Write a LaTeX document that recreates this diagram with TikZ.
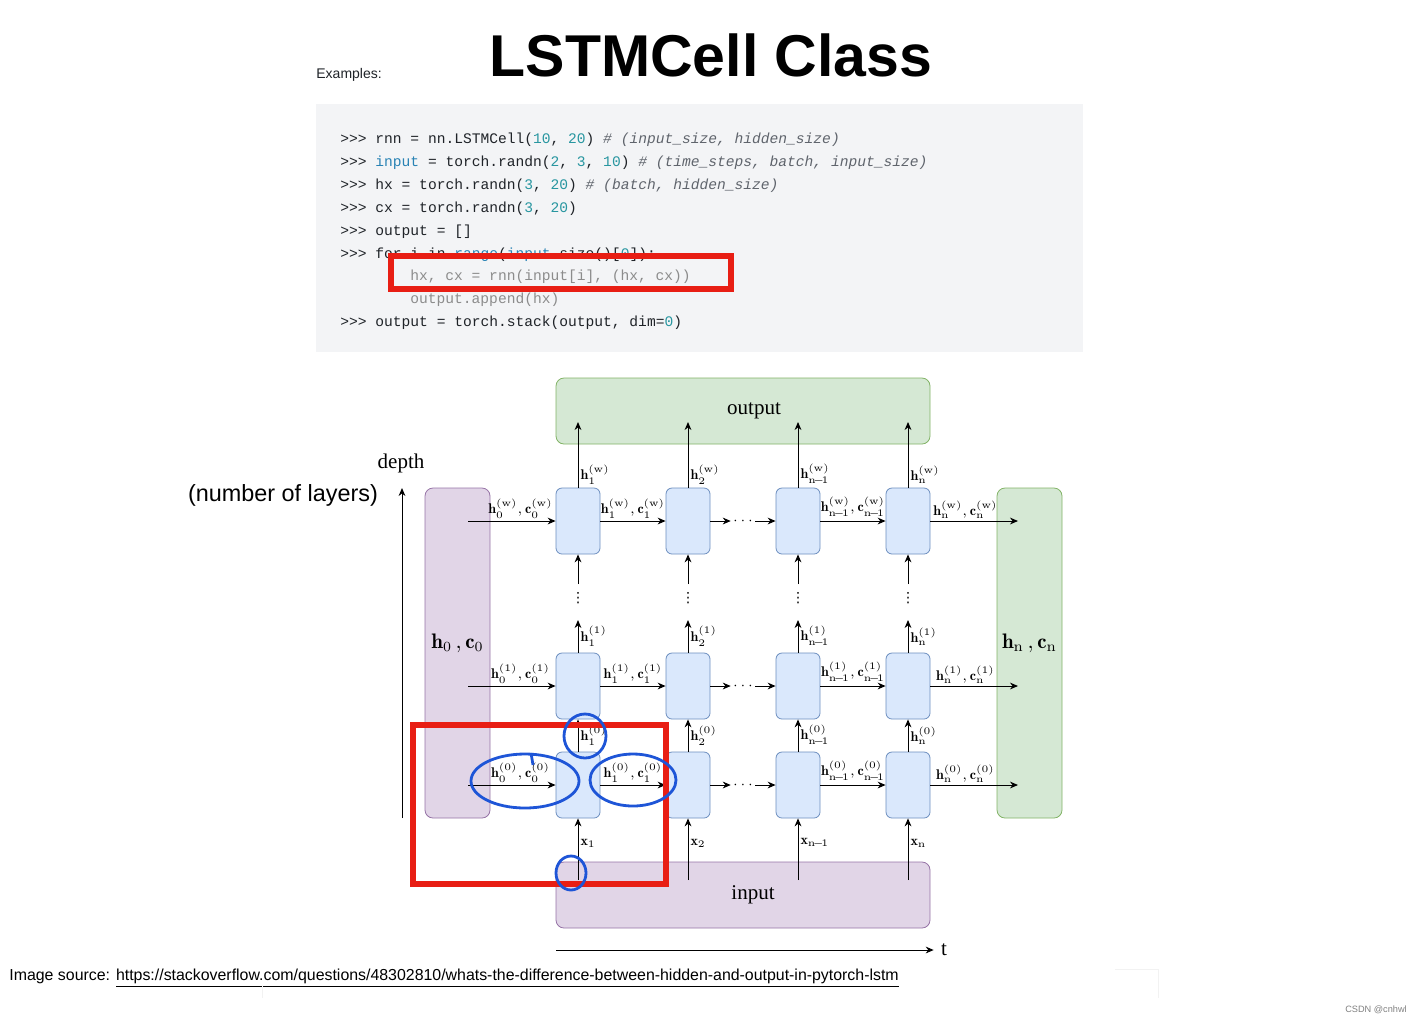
\documentclass[tikz,border=0pt]{standalone}
\usepackage{fontspec}
\usetikzlibrary{arrows.meta}
\newfontfamily\headfont{Liberation Sans}
\newfontfamily\codefont{Liberation Mono}
\newfontfamily\wordfont{Liberation Serif}
\newfontfamily\symfont{DejaVu Sans}
\newcommand{\cnum}[1]{\textcolor{codenum}{#1}}
\newcommand{\ckw}[1]{\textcolor{codekw}{#1}}
\newcommand{\ccmt}[1]{\textcolor{codecmt}{\itshape #1}}
\newcommand{\hc}[2]{\mathbf{h}^{(\mathrm{#1})}_{#2},\mathbf{c}^{(\mathrm{#1})}_{#2}}
\newcommand{\hh}[2]{\mathbf{h}^{(\mathrm{#1})}_{#2}}
\newcommand{\nmo}{\mathrm{n}\!-\!1}

\begin{document}
\begin{tikzpicture}[x=0.5pt,y=-0.5pt,
  cell/.style={draw=cellline, fill=cellfill, rounded corners=3pt, minimum width=22pt, minimum height=33pt, inner sep=0pt},
  pbox/.style={draw=purpleline, fill=purplefill, rounded corners=4pt, inner sep=0pt, font=\fontsize{10.5}{12}\selectfont},
  gbox/.style={draw=greenline, fill=greenfill, rounded corners=4pt, inner sep=0pt, font=\fontsize{10.5}{12}\selectfont},
  flow/.style={draw, line width=0.5pt, -{Stealth[length=4pt,width=3.4pt]}},
  lab/.style={font=\fontsize{7}{8}\selectfont, inner sep=1pt},
  vdot/.style={inner sep=0pt, font=\symfont\fontsize{7}{8}\selectfont},
  codeline/.style={anchor=base west, inner sep=0pt, font=\codefont\fontsize{7.3}{8}\selectfont, text=codetext},
  redframe/.style={draw=markred, line width=2.8pt},
  penring/.style={draw=penblue, line width=1.4pt}]
\definecolor{cellfill}{HTML}{DAE8FC}
\definecolor{cellline}{HTML}{6C8EBF}
\definecolor{purplefill}{HTML}{E1D5E7}
\definecolor{purpleline}{HTML}{9673A6}
\definecolor{greenfill}{HTML}{D5E8D4}
\definecolor{greenline}{HTML}{82B366}
\definecolor{codebg}{HTML}{F3F4F6}
\definecolor{codetext}{HTML}{1F2328}
\definecolor{codenum}{RGB}{40,150,160}
\definecolor{codekw}{RGB}{40,130,180}
\definecolor{codecmt}{RGB}{95,100,108}
\definecolor{codegray}{RGB}{140,140,140}
\definecolor{markred}{RGB}{232,30,20}
\definecolor{penblue}{RGB}{30,85,215}
\useasboundingbox (0,0) rectangle (1424,1024);

% title and code
\node[font=\headfont\bfseries\fontsize{29.5}{32}\selectfont] (title) at (711,55) {LSTMCell Class};
\node[anchor=west, inner sep=0pt, font=\headfont\fontsize{7}{8}\selectfont, text=codetext] (examples) at (316,75) {Examples:};
\fill[codebg] (316,104) rectangle (1083,352);
\node[codeline] (l1) at (340,143) {>>> rnn = nn.LSTMCell(\cnum{10}, \cnum{20}) \ccmt{\# (input\_size, hidden\_size)}};
\node[codeline] (l2) at (340,166) {>>> \ckw{input} = torch.randn(\cnum{2}, \cnum{3}, \cnum{10}) \ccmt{\# (time\_steps, batch, input\_size)}};
\node[codeline] (l3) at (340,189) {>>> hx = torch.randn(\cnum{3}, \cnum{20}) \ccmt{\# (batch, hidden\_size)}};
\node[codeline] (l4) at (340,212) {>>> cx = torch.randn(\cnum{3}, \cnum{20})};
\node[codeline] (l5) at (340,235) {>>> output = []};
\node[codeline] (l6) at (340,258) {>>> for i in \ckw{range}(\ckw{input}.size()[\cnum{0}]):};
\node[codeline, text=codegray] (l7) at (410,280) {hx, cx = rnn(input[i], (hx, cx))};
\node[codeline, text=codegray] (l8) at (410,303) {output.append(hx)};
\node[codeline] (l9) at (340,326) {>>> output = torch.stack(output, dim=\cnum{0})};

% boxes
\node[gbox, minimum width=187pt, minimum height=33pt] (out) at (743,411) {\wordfont\hspace*{11pt}output};
\node[pbox, minimum width=187pt, minimum height=33pt] (in) at (743,895) {\wordfont\hspace*{10pt}input};
\node[pbox, minimum width=32.5pt, minimum height=165pt] (init) at (457.5,653) {\raisebox{12pt}{$\mathbf{h}_0\,,\mathbf{c}_0$}};
\node[gbox, minimum width=32.5pt, minimum height=165pt] (final) at (1029.5,653) {\raisebox{12pt}{$\mathbf{h}_{\mathrm{n}}\,,\mathbf{c}_{\mathrm{n}}$}};

% cells
\node[cell] (c01) at (578,785) {};
\node[cell] (c02) at (688,785) {};
\node[cell] (c03) at (798,785) {};
\node[cell] (c04) at (908,785) {};
\node[cell] (c11) at (578,686) {};
\node[cell] (c12) at (688,686) {};
\node[cell] (c13) at (798,686) {};
\node[cell] (c14) at (908,686) {};
\node[cell] (cw1) at (578,521) {};
\node[cell] (cw2) at (688,521) {};
\node[cell] (cw3) at (798,521) {};
\node[cell] (cw4) at (908,521) {};

% free ends
\coordinate (s0) at (468,785);
\coordinate (s1) at (468,686);
\coordinate (sw) at (468,521);
\coordinate (e0) at (1018,785);
\coordinate (e1) at (1018,686);
\coordinate (ew) at (1018,521);
\coordinate (i1) at (578,880);
\coordinate (i2) at (688,880);
\coordinate (i3) at (798,880);
\coordinate (i4) at (908,880);
\coordinate (o1) at (578,422);
\coordinate (o2) at (688,422);
\coordinate (o3) at (798,422);
\coordinate (o4) at (908,422);
\coordinate (u1) at (578,620);
\coordinate (u2) at (688,620);
\coordinate (u3) at (798,620);
\coordinate (u4) at (908,620);
\coordinate (t1) at (578,584);
\coordinate (t2) at (688,584);
\coordinate (t3) at (798,584);
\coordinate (t4) at (908,584);
\node[lab] (dd0) at (743,785) {$\cdots$};
\node[lab] (dd1) at (743,686) {$\cdots$};
\node[lab] (ddw) at (743,521) {$\cdots$};
\node[vdot] (v1) at (578,598) {⋮};
\node[vdot] (v2) at (688,598) {⋮};
\node[vdot] (v3) at (798,598) {⋮};
\node[vdot] (v4) at (908,598) {⋮};

% layer 0
\path[flow] (s0) -- node[lab,above,pos=0.6] {$\hc{0}{0}$} (c01);
\path[flow] (c01) -- node[lab,above] {$\hc{0}{1}$} (c02);
\path[flow] (c02) -- (dd0);
\path[flow] (dd0) -- (c03);
\path[flow] (c03) -- node[lab,above] {$\hc{0}{\nmo}$} (c04);
\path[flow] (c04) -- node[lab,above,pos=0.4] {$\hc{0}{\mathrm{n}}$} (e0);

% layer 1
\path[flow] (s1) -- node[lab,above,pos=0.6] {$\hc{1}{0}$} (c11);
\path[flow] (c11) -- node[lab,above] {$\hc{1}{1}$} (c12);
\path[flow] (c12) -- (dd1);
\path[flow] (dd1) -- (c13);
\path[flow] (c13) -- node[lab,above] {$\hc{1}{\nmo}$} (c14);
\path[flow] (c14) -- node[lab,above,pos=0.4] {$\hc{1}{\mathrm{n}}$} (e1);

% layer w
\path[flow] (sw) -- node[lab,above,pos=0.6] {$\hc{w}{0}$} (cw1);
\path[flow] (cw1) -- node[lab,above] {$\hc{w}{1}$} (cw2);
\path[flow] (cw2) -- (ddw);
\path[flow] (ddw) -- (cw3);
\path[flow] (cw3) -- node[lab,above] {$\hc{w}{\nmo}$} (cw4);
\path[flow] (cw4) -- node[lab,above,pos=0.4] {$\hc{w}{\mathrm{n}}$} (ew);

% inputs
\path[flow] (i1) -- node[lab,right,pos=0.6] {$\mathbf{x}_1$} (c01);
\path[flow] (i2) -- node[lab,right,pos=0.6] {$\mathbf{x}_2$} (c02);
\path[flow] (i3) -- node[lab,right,pos=0.6] {$\mathbf{x}_{\nmo}$} (c03);
\path[flow] (i4) -- node[lab,right,pos=0.6] {$\mathbf{x}_{\mathrm{n}}$} (c04);

% upwards
\path[flow] (c01) -- node[lab,right] {$\hh{0}{1}$} (c11);
\path[flow] (c02) -- node[lab,right] {$\hh{0}{2}$} (c12);
\path[flow] (c03) -- node[lab,right] {$\hh{0}{\nmo}$} (c13);
\path[flow] (c04) -- node[lab,right] {$\hh{0}{\mathrm{n}}$} (c14);
\path[flow] (c11) -- node[lab,right] {$\hh{1}{1}$} (u1);
\path[flow] (c12) -- node[lab,right] {$\hh{1}{2}$} (u2);
\path[flow] (c13) -- node[lab,right] {$\hh{1}{\nmo}$} (u3);
\path[flow] (c14) -- node[lab,right] {$\hh{1}{\mathrm{n}}$} (u4);
\path[flow] (t1) -- (cw1);
\path[flow] (t2) -- (cw2);
\path[flow] (t3) -- (cw3);
\path[flow] (t4) -- (cw4);
\path[flow] (cw1) -- node[lab,right,pos=0.2] {$\hh{w}{1}$} (o1);
\path[flow] (cw2) -- node[lab,right,pos=0.2] {$\hh{w}{2}$} (o2);
\path[flow] (cw3) -- node[lab,right,pos=0.2] {$\hh{w}{\nmo}$} (o3);
\path[flow] (cw4) -- node[lab,right,pos=0.2] {$\hh{w}{\mathrm{n}}$} (o4);

% axes
\coordinate (dbot) at (402,818);
\coordinate (dtop) at (402,488);
\path[flow] (dbot) -- (dtop);
\node[font=\wordfont\fontsize{10.5}{12}\selectfont] (depth) at (401,463) {depth};
\node[font=\headfont\fontsize{11.7}{13}\selectfont] (layers) at (283,495) {(number of layers)};
\coordinate (t0) at (556,950);
\node[font=\wordfont\fontsize{10.5}{12}\selectfont, inner sep=3.5pt] (tlab) at (944,950) {t};
\path[flow] (t0) -- (tlab);

% annotations
\draw[redframe] (391,256) rectangle (731,289);
\draw[redframe] (413,725) rectangle (666,884);
\draw[penring] (525,781) ellipse [x radius=54, y radius=27];
\draw[penring] (531,753) -- (533,765);
\draw[penring] (633,780) ellipse [x radius=43, y radius=26];
\draw[penring] (585,736) ellipse [x radius=21, y radius=22];
\draw[penring] (571,873) ellipse [x radius=15, y radius=17];

% footer
\node[anchor=base west, inner sep=0pt, font=\headfont\fontsize{7.95}{9}\selectfont] (source) at (9,980) {Image source: \underline{https://stackoverflow.com/questions/48302810/whats-the-difference-between-hidden-and-output-in-pytorch-lstm}};
\node[font=\headfont\fontsize{4.6}{5}\selectfont, text=gray] (csdn) at (1376,1010) {CSDN @cnhwl};
\draw[gray!10] (262,985) -- (262,998);
\draw[gray!10] (1115,969) -- (1158,969) -- (1158,998);
\end{tikzpicture}
\end{document}
